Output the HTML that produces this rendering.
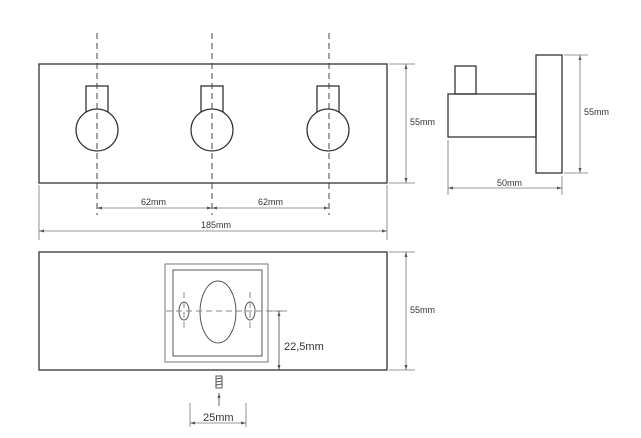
<!DOCTYPE html>
<html><head><meta charset="utf-8"><style>
html,body{margin:0;padding:0;background:#fff;}
svg{display:block;}
text{font-family:"Liberation Sans",sans-serif;fill:#333;}
</style></head><body>
<svg width="641" height="438" viewBox="0 0 641 438" xmlns="http://www.w3.org/2000/svg">
<defs>
<marker id="a" markerWidth="6" markerHeight="6" refX="5" refY="3" orient="auto-start-reverse" markerUnits="userSpaceOnUse"><path d="M0,1.5 L5,3 L0,4.5 Z" fill="#555"/></marker>
</defs>
<g fill="none" stroke="#333" stroke-width="1.3">
<!-- top front view -->
<rect x="39" y="64" width="348" height="119"/>
<g>
<rect x="86" y="86" width="22" height="26" fill="#fff"/><circle cx="97" cy="130" r="21" fill="#fff"/>
<rect x="201" y="86" width="22" height="26" fill="#fff"/><circle cx="212" cy="130" r="21" fill="#fff"/>
<rect x="317" y="86" width="22" height="26" fill="#fff"/><circle cx="328" cy="130" r="21" fill="#fff"/>
</g>
<!-- side view -->
<rect x="536" y="55" width="26" height="118"/>
<rect x="448" y="94" width="88" height="43"/>
<rect x="455" y="66" width="21" height="28"/>
<!-- bottom view -->
<rect x="39" y="252" width="348" height="118"/>
<rect x="165" y="264" width="103" height="98" stroke="#777" stroke-width="1"/>
<rect x="173" y="270" width="89" height="86" stroke="#555" stroke-width="1"/>
<ellipse cx="218" cy="312" rx="18" ry="31" stroke="#555" stroke-width="1"/>
<ellipse cx="184" cy="311" rx="5" ry="9" stroke="#555" stroke-width="1"/>
<ellipse cx="250" cy="311" rx="5" ry="9" stroke="#555" stroke-width="1"/>
</g>
<!-- dashed centre lines -->
<g stroke="#444" stroke-width="1" stroke-dasharray="6,4" fill="none">
<line x1="97" y1="33" x2="97" y2="215"/>
<line x1="212" y1="33" x2="212" y2="215"/>
<line x1="329" y1="33" x2="329" y2="215"/>
<line x1="166" y1="311" x2="287" y2="311" stroke="#888"/>
<line x1="184" y1="292" x2="184" y2="330" stroke="#888"/>
<line x1="250" y1="292" x2="250" y2="330" stroke="#888"/>
</g>
<!-- dimension lines -->
<g stroke="#777" stroke-width="0.8" fill="none">
<line x1="97" y1="208" x2="212" y2="208" marker-start="url(#a)" marker-end="url(#a)"/>
<line x1="212" y1="208" x2="329" y2="208" marker-start="url(#a)" marker-end="url(#a)"/>
<line x1="39" y1="185" x2="39" y2="240"/><line x1="387" y1="185" x2="387" y2="240"/>
<line x1="39" y1="231" x2="387" y2="231" marker-start="url(#a)" marker-end="url(#a)"/>
<line x1="389" y1="64" x2="415" y2="64"/><line x1="389" y1="183" x2="415" y2="183"/>
<line x1="406" y1="64" x2="406" y2="183" marker-start="url(#a)" marker-end="url(#a)"/>
<line x1="564" y1="55" x2="588" y2="55"/><line x1="564" y1="173" x2="588" y2="173"/>
<line x1="580" y1="55" x2="580" y2="173" marker-start="url(#a)" marker-end="url(#a)"/>
<line x1="448" y1="140" x2="448" y2="195"/><line x1="562" y1="176" x2="562" y2="195"/>
<line x1="448" y1="188" x2="562" y2="188" marker-start="url(#a)" marker-end="url(#a)"/>
<line x1="389" y1="252" x2="415" y2="252"/><line x1="389" y1="370" x2="415" y2="370"/>
<line x1="406" y1="252" x2="406" y2="370" marker-start="url(#a)" marker-end="url(#a)"/>
<line x1="268" y1="311" x2="287" y2="311"/>
<line x1="279" y1="311" x2="279" y2="370" stroke="#444" marker-start="url(#a)" marker-end="url(#a)"/>
<line x1="190" y1="403" x2="190" y2="427"/><line x1="246" y1="403" x2="246" y2="427"/>
<line x1="190" y1="423" x2="246" y2="423" marker-start="url(#a)" marker-end="url(#a)"/>
<line x1="219" y1="406" x2="219" y2="393" stroke="#444" marker-end="url(#a)"/>
</g>
<!-- screw -->
<g stroke="#555" stroke-width="1" fill="none">
<rect x="216" y="376" width="6" height="12"/>
<line x1="216" y1="379" x2="222" y2="378"/><line x1="216" y1="382" x2="222" y2="381"/>
<line x1="216" y1="385" x2="222" y2="384"/>
</g>
<g font-size="9">
<text x="141" y="205">62mm</text>
<text x="258" y="205">62mm</text>
<text x="201" y="228">185mm</text>
<text x="410" y="125">55mm</text>
<text x="584" y="115">55mm</text>
<text x="497" y="186">50mm</text>
<text x="410" y="313">55mm</text>
</g>
<text x="284" y="350" font-size="11">22,5mm</text>
<text x="203" y="421" font-size="11">25mm</text>
</svg>
</body></html>
